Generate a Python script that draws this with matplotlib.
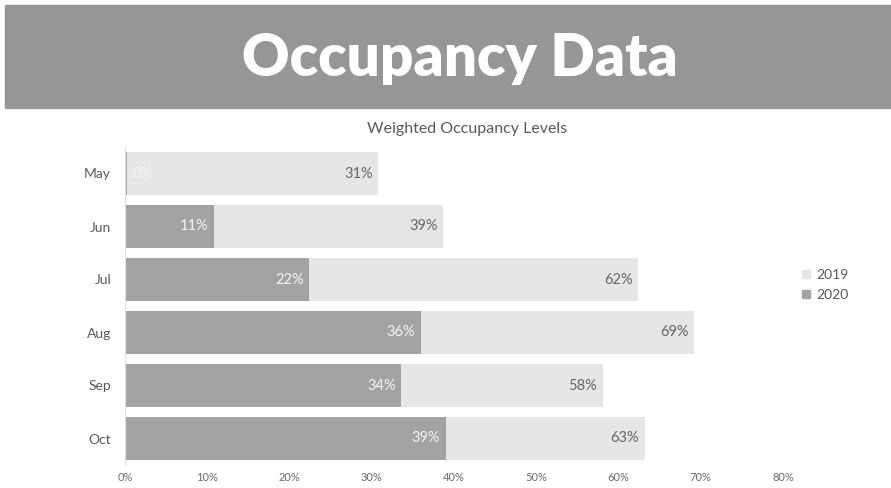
import matplotlib.pyplot as plt
from matplotlib.patches import Rectangle
from matplotlib.lines import Line2D

plt.rcParams["font.family"] = ["Lato", "DejaVu Sans"]

months = ["May", "Jun", "Jul", "Aug", "Sep", "Oct"]
occ_2019 = [30.8, 38.7, 62.4, 69.2, 58.1, 63.2]
occ_2020 = [0.3, 10.8, 22.4, 36.0, 33.6, 39.0]
xticks = [0, 10, 20, 30, 40, 50, 60, 70, 80]

c2019 = "#e6e6e6"
c2020 = "#a3a3a3"
txt = "#595959"

fig = plt.figure(figsize=(8.91, 4.88), dpi=100)
fig.patch.set_facecolor("white")

# grey banner across the top
fig.patches.append(Rectangle((5 / 891, 1 - 108 / 488), 1 - 5 / 891, 103 / 488,
                             transform=fig.transFigure, color="#969696", zorder=0))
fig.text(460 / 891, 1 - 76 / 488, "Occupancy Data", color="white", fontsize=42,
         fontweight="heavy", ha="center", va="baseline")
fig.text(467 / 891, 1 - 133 / 488, "Weighted Occupancy Levels", color=txt,
         fontsize=11.5, ha="center", va="baseline")

ax = fig.add_axes([125 / 891, 1 - 465 / 488, (783 - 125) / 891, 318 / 488])
y = list(range(len(months)))
ax.barh(y, occ_2019, height=0.8, color=c2019, label="2019")
ax.barh(y, occ_2020, height=0.8, color=c2020, label="2020")

for i in y:
    ax.text(occ_2019[i] - 0.7, i, f"{occ_2019[i]:.0f}%", color="#666666",
            fontsize=10.5, ha="right", va="center")
    v = occ_2020[i]
    if v < 3:
        ax.text(v + 0.6, i, f"{v:.0f}%", color="#f5f5f5", fontsize=10.5,
                ha="left", va="center")
    else:
        ax.text(v - 0.7, i, f"{v:.0f}%", color="#f5f5f5", fontsize=10.5,
                ha="right", va="center")

ax.set_xlim(0, 80)
ax.set_ylim(len(months) - 0.5, -0.5)
ax.set_yticks(y)
ax.set_yticklabels(months, fontsize=10, color=txt)
ax.set_xticks(xticks)
ax.set_xticklabels([f"{t}%" for t in xticks], fontsize=8, color="#6a6a6a")
ax.tick_params(length=0, pad=10)
ax.tick_params(axis="x", pad=5)
for s in ["top", "right", "bottom"]:
    ax.spines[s].set_visible(False)
ax.spines["left"].set_color("#e0e0e0")
ax.spines["left"].set_linewidth(0.8)

handles = [Line2D([], [], marker="s", linestyle="", color=c2019, markersize=6),
           Line2D([], [], marker="s", linestyle="", color=c2020, markersize=6)]
fig.legend(handles, ["2019", "2020"], loc="center left",
           bbox_to_anchor=(787 / 891, 1 - 285 / 488), frameon=False,
           fontsize=10, labelcolor=txt, handletextpad=0.2, handlelength=1.0,
           labelspacing=0.6)

fig.savefig("out.png", dpi=100)
